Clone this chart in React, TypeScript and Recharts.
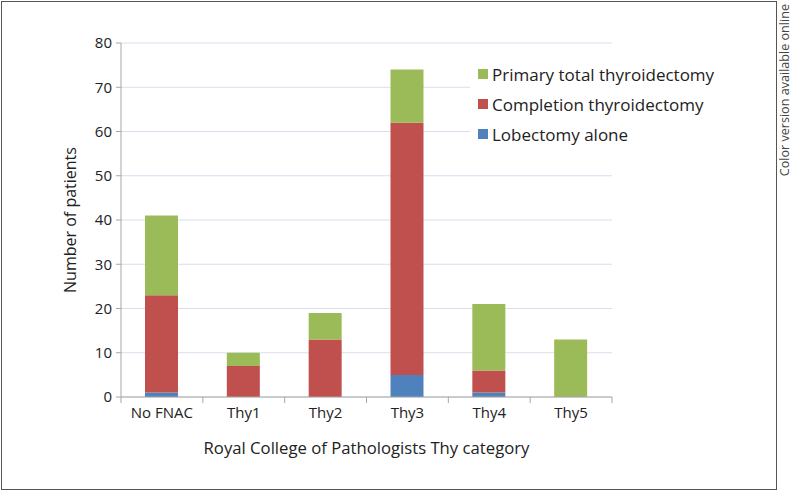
import React from 'react';
import { BarChart, Bar, XAxis, YAxis, CartesianGrid, Legend } from 'recharts';

const categories = ['No FNAC', 'Thy1', 'Thy2', 'Thy3', 'Thy4', 'Thy5'];
const lobectomy = [1, 0, 0, 5, 1, 0];
const completion = [22, 7, 13, 57, 5, 0];
const primaryTotal = [18, 3, 6, 12, 15, 13];
const yTicks = [0, 10, 20, 30, 40, 50, 60, 70, 80];

const COLORS = {
  primary: '#9bbb59',
  completion: '#c0504d',
  lobectomy: '#4f81bd',
};

const FONT = '"Open Sans", "Noto Sans", sans-serif';
const CHART_W = 793;
const CHART_H = 492;
const Y_AXIS_W = 60;
const MARGIN = { top: 43, right: 181, left: 61, bottom: 35 };
const HALF_BAND = (CHART_W - MARGIN.left - Y_AXIS_W - MARGIN.right) / categories.length / 2;

const data = categories.map((name, i) => ({
  name,
  lobectomy: lobectomy[i],
  completion: completion[i],
  primary: primaryTotal[i],
}));

const legendItems = [
  { label: 'Primary total thyroidectomy', color: COLORS.primary },
  { label: 'Completion thyroidectomy', color: COLORS.completion },
  { label: 'Lobectomy alone', color: COLORS.lobectomy },
];

function LegendBox() {
  return (
    <div style={{ background: '#fff', padding: '6px 0 6px 8px' }}>
      {legendItems.map((it) => (
        <div key={it.label} style={{ display: 'flex', alignItems: 'center', height: 30, whiteSpace: 'nowrap' }}>
          <span style={{ width: 10, height: 10, background: it.color, marginRight: 4, flex: 'none' }} />
          <span style={{ fontSize: 17, color: '#222', fontFamily: FONT }}>{it.label}</span>
        </div>
      ))}
    </div>
  );
}

// category axis with tick marks between the categories, like the original
function CategoryTick(props: any) {
  const { x, y, payload, index } = props;
  const half = payload && payload.offset ? payload.offset : HALF_BAND;
  return (
    <g>
      <line x1={x - half} y1={y - 8} x2={x - half} y2={y - 2} stroke="#a6a6a6" />
      {index === categories.length - 1 && (
        <line x1={x + half} y1={y - 8} x2={x + half} y2={y - 2} stroke="#a6a6a6" />
      )}
      <text x={x} y={y + 13} textAnchor="middle" fontSize={15} fill="#222" fontFamily={FONT}>
        {payload.value}
      </text>
    </g>
  );
}

export default function App() {
  return (
    <div style={{ position: 'absolute', left: 0, top: 0, width: CHART_W, height: CHART_H, background: '#fff' }}>
      <div
        style={{
          position: 'absolute',
          left: 1,
          top: 1,
          width: 774,
          height: 487,
          border: '1px solid #555',
        }}
      />
      <div
        style={{
          position: 'absolute',
          left: 777,
          top: 4,
          writingMode: 'vertical-rl',
          transform: 'rotate(180deg)',
          whiteSpace: 'nowrap',
          fontSize: 12.6,
          lineHeight: '16px',
          color: '#444',
          fontFamily: FONT,
        }}
      >
        Color version available online
      </div>
      <div style={{ position: 'absolute', left: 0, top: 0 }}>
        <BarChart width={CHART_W} height={CHART_H} data={data} margin={MARGIN}>
          <CartesianGrid vertical={false} stroke="#d6dfee" />
          <XAxis
            dataKey="name"
            height={60}
            tickLine={false}
            axisLine={{ stroke: '#a6a6a6' }}
            tick={<CategoryTick />}
            interval={0}
            label={{
              value: 'Royal College of Pathologists Thy category',
              position: 'insideBottom',
              offset: 3,
              style: { fontSize: 16.7, fill: '#222', fontFamily: FONT },
            }}
          />
          <YAxis
            width={Y_AXIS_W}
            domain={[0, 80]}
            ticks={yTicks}
            interval={0}
            tickSize={5}
            tickLine={{ stroke: '#a6a6a6' }}
            axisLine={{ stroke: '#a6a6a6' }}
            tick={{ fontSize: 15, fill: '#222', fontFamily: FONT }}
            tickMargin={4}
            label={{
              value: 'Number of patients',
              angle: -90,
              position: 'insideLeft',
              offset: 9,
              style: { fontSize: 16, fill: '#222', fontFamily: FONT, textAnchor: 'middle' },
            }}
          />
          <Legend
            layout="horizontal"
            verticalAlign="middle"
            align="center"
            content={<LegendBox />}
            wrapperStyle={{ left: 470, top: 53, width: 270 }}
          />
          <Bar dataKey="lobectomy" stackId="a" fill={COLORS.lobectomy} barSize={33} isAnimationActive={false} />
          <Bar dataKey="completion" stackId="a" fill={COLORS.completion} barSize={33} isAnimationActive={false} />
          <Bar dataKey="primary" stackId="a" fill={COLORS.primary} barSize={33} isAnimationActive={false} />
        </BarChart>
      </div>
    </div>
  );
}
